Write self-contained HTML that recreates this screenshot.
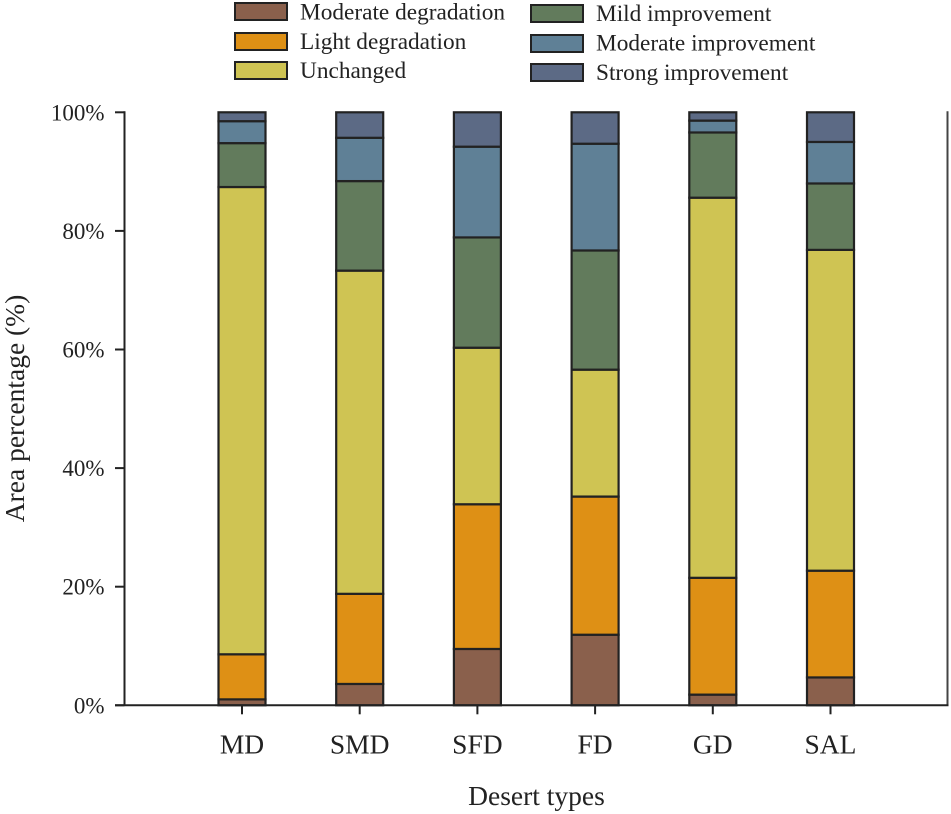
<!DOCTYPE html>
<html lang="en">
<head>
<meta charset="utf-8">
<title>Area percentage by desert type</title>
<style>
html,body{margin:0;padding:0;background:#fff;width:951px;height:814px;overflow:hidden}
svg{display:block}
text{font-family:"Liberation Serif",serif;fill:#222}
</style>
</head>
<body>
<svg id="chart" xmlns="http://www.w3.org/2000/svg" width="951" height="814" viewBox="0 0 951 814">
  <g id="legend" font-size="23.3">
    <g><rect x="235" y="3" width="52" height="17" fill="#8a604c" stroke="#222" stroke-width="2"/><text x="300" y="19.5">Moderate degradation</text></g>
    <g><rect x="235" y="33" width="52" height="17" fill="#de9015" stroke="#222" stroke-width="2"/><text x="300" y="49">Light degradation</text></g>
    <g><rect x="235" y="62" width="52" height="17" fill="#cfc453" stroke="#222" stroke-width="2"/><text x="300" y="78">Unchanged</text></g>
    <g><rect x="531" y="5" width="52" height="17" fill="#627b5c" stroke="#222" stroke-width="2"/><text x="596" y="21">Mild improvement</text></g>
    <g><rect x="531" y="35" width="52" height="17" fill="#5f8096" stroke="#222" stroke-width="2"/><text x="596" y="50.5">Moderate improvement</text></g>
    <g><rect x="531" y="64" width="52" height="17" fill="#5c6a85" stroke="#222" stroke-width="2"/><text x="596" y="80">Strong improvement</text></g>
  </g>
  <g id="bars"></g>
  <g id="axes"></g>
  <text x="536.5" y="805" text-anchor="middle" font-size="27.5">Desert types</text>
  <text transform="translate(24,408.5) rotate(-90)" text-anchor="middle" font-size="27.5">Area percentage (%)</text>
</svg>
<script>
const categories = ["MD", "SMD", "SFD", "FD", "GD", "SAL"];
const moderateDegradation = [1.0, 3.6, 9.5, 11.9, 1.8, 4.7];
const lightDegradation = [7.6, 15.2, 24.4, 23.3, 19.7, 18.0];
const unchanged = [78.8, 54.5, 26.4, 21.4, 64.1, 54.1];
const mildImprovement = [7.4, 15.1, 18.6, 20.1, 11.0, 11.2];
const moderateImprovement = [3.7, 7.3, 15.3, 18.0, 2.0, 7.0];
const strongImprovement = [1.5, 4.3, 5.8, 5.3, 1.4, 5.0];
const yTickValues = [0, 20, 40, 60, 80, 100];
const yTickLabels = ["0%", "20%", "40%", "60%", "80%", "100%"];

const NS = "http://www.w3.org/2000/svg";
const seriesList = [moderateDegradation, lightDegradation, unchanged, mildImprovement, moderateImprovement, strongImprovement];
const seriesNames = ["moderate-degradation", "light-degradation", "unchanged", "mild-improvement", "moderate-improvement", "strong-improvement"];
const seriesColors = ["#8a604c", "#de9015", "#cfc453", "#627b5c", "#5f8096", "#5c6a85"];

const yScale = function (v) { return 705.3 - v * 5.93; };
const xScale = function (i) { return 242 + i * 117.7; };
const barWidth = 47;
const ink = "#222";

function make(tag, attrs, parent) {
  const el = document.createElementNS(NS, tag);
  Object.keys(attrs).forEach(function (k) { el.setAttribute(k, attrs[k]); });
  parent.appendChild(el);
  return el;
}

const barsGroup = document.getElementById("bars");
categories.forEach(function (cat, i) {
  let cumulative = 0;
  seriesList.forEach(function (series, s) {
    const start = cumulative;
    cumulative += series[i];
    const rect = make("rect", {
      x: xScale(i) - barWidth / 2,
      y: yScale(cumulative),
      width: barWidth,
      height: yScale(start) - yScale(cumulative),
      fill: seriesColors[s],
      stroke: ink,
      "stroke-width": 2.2
    }, barsGroup);
    
    
  });
});

const axesGroup = document.getElementById("axes");
const leftX = 124.5;
const rightX = 947.5;

const yAxisLine = make("line", { x1: leftX, x2: leftX, y1: yScale(100) - 1, y2: yScale(0), stroke: ink, "stroke-width": 2 }, axesGroup);



const rightAxisLine = make("line", { x1: rightX, x2: rightX, y1: yScale(100) - 1, y2: yScale(0), stroke: "#444", "stroke-width": 2 }, axesGroup);



const xAxisLine = make("line", { x1: 115, x2: rightX + 1, y1: yScale(0), y2: yScale(0), stroke: ink, "stroke-width": 2 }, axesGroup);



yTickValues.forEach(function (v, i) {
  const tick = make("line", { x1: 115, x2: leftX, y1: yScale(v), y2: yScale(v), stroke: ink, "stroke-width": 2 }, axesGroup);
  
  
  const label = make("text", { x: 104.5, y: yScale(v) + 8, "text-anchor": "end", "font-size": 23 }, axesGroup);
  
  
  label.textContent = yTickLabels[i];
});

categories.forEach(function (cat, i) {
  const tick = make("line", { x1: xScale(i), x2: xScale(i), y1: yScale(0), y2: yScale(0) + 9, stroke: ink, "stroke-width": 2 }, axesGroup);
  
  
  const label = make("text", { x: xScale(i), y: 753.5, "text-anchor": "middle", "font-size": 27.5 }, axesGroup);
  
  
  label.textContent = cat;
});
</script>
</body>
</html>
